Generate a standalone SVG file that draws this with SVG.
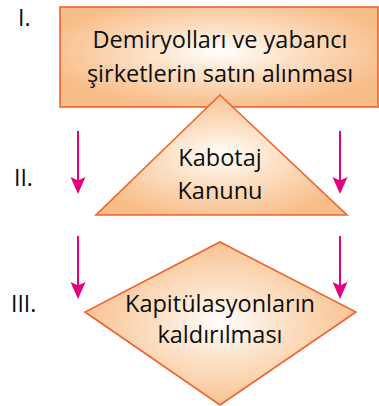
<svg xmlns="http://www.w3.org/2000/svg" width="379" height="406" viewBox="0 0 379 406">
<style>
.shape{stroke:#F0622E;stroke-width:1.6;stroke-linejoin:miter}
.t{font-family:"Open Sans","Noto Sans",sans-serif;font-size:23.5px;fill:#0d0d0d;text-anchor:middle}
.lbl{font-family:"Open Sans","Noto Sans",sans-serif;font-size:23px;fill:#0d0d0d}
</style>
<defs>
<radialGradient id="g1" cx="0.5" cy="0.45" r="0.55">
<stop offset="0" stop-color="#FFFFFF"/>
<stop offset="0.4" stop-color="#FCE2C8"/>
<stop offset="1" stop-color="#F8BE8A"/>
</radialGradient>
<radialGradient id="g2" cx="0.5" cy="0.5" r="0.55">
<stop offset="0" stop-color="#FFFFFF"/>
<stop offset="0.4" stop-color="#FCE2C8"/>
<stop offset="1" stop-color="#F8BE8A"/>
</radialGradient>
</defs>
<g id="labels">
<text class="lbl" x="18" y="26">I.</text>
<text class="lbl" x="14" y="186">II.</text>
<text class="lbl" x="11" y="312">III.</text>
</g>
<g id="node1">
<rect class="shape" x="60" y="7" width="318" height="100" fill="url(#g1)"/>
<text class="t" x="220" y="48">Demiryolları ve yabancı</text>
<text class="t" x="220" y="82">şirketlerin satın alınması</text>
</g>
<g id="node2">
<polygon class="shape" points="220,95 347,215 96,215" fill="url(#g2)"/>
<text class="t" x="220" y="166">Kabotaj</text>
<text class="t" x="220" y="199">Kanunu</text>
</g>
<g id="node3">
<polygon class="shape" points="220,242 356,312 220,405 85,312" fill="url(#g2)"/>
<text class="t" x="220" y="312">Kapitülasyonların</text>
<text class="t" x="220" y="343">kaldırılması</text>
</g>
<g id="connectors">
<line x1="78" y1="131" x2="78" y2="183" stroke="#E5007D" stroke-width="2"/>
<path d="M70.5,177 L78,180.5 L85.5,177 L78,194 Z" fill="#E5007D"/>
<line x1="340" y1="131" x2="340" y2="183" stroke="#E5007D" stroke-width="2"/>
<path d="M332.5,177 L340,180.5 L347.5,177 L340,194 Z" fill="#E5007D"/>
<line x1="78" y1="236" x2="78" y2="288" stroke="#E5007D" stroke-width="2"/>
<path d="M70.5,282 L78,285.5 L85.5,282 L78,299 Z" fill="#E5007D"/>
<line x1="340" y1="236" x2="340" y2="288" stroke="#E5007D" stroke-width="2"/>
<path d="M332.5,282 L340,285.5 L347.5,282 L340,299 Z" fill="#E5007D"/>
</g>
</svg>
